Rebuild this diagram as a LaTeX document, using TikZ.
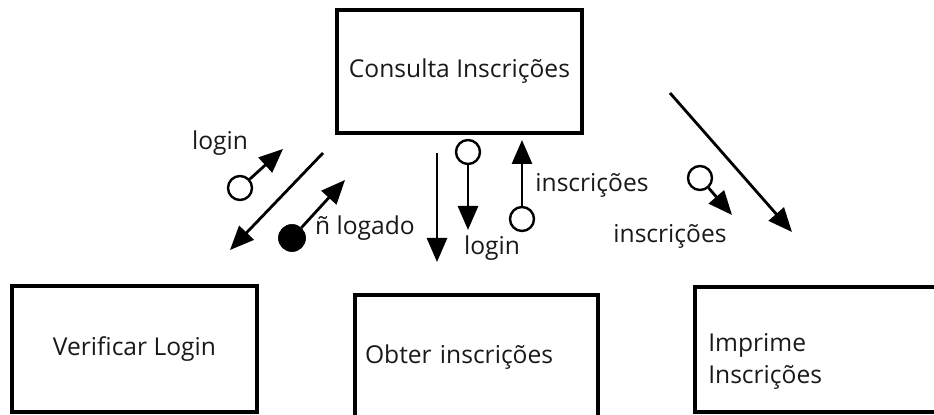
\documentclass[tikz,border=0pt]{standalone}
\usepackage{fontspec}
\setmainfont{Open Sans}
\usetikzlibrary{arrows.meta}

\begin{document}
\begin{tikzpicture}[font=\fontsize{17.5}{22.7}\selectfont, text=black!90,
  box/.style={draw, line width=2.3pt, inner sep=0pt},
  flow/.style={line width=2pt, -{Triangle[length=0.6cm,width=0.5cm]}},
  dataflag/.style={draw, circle, line width=1.7pt, minimum size=0.6cm, inner sep=0pt},
  ctrlflag/.style={draw, circle, fill, minimum size=0.68cm, inner sep=0pt}]
\clip (0,0) rectangle (23.35,10.375);
\node[box, minimum width=6.125cm, minimum height=3.075cm] (cons) at (11.4875,8.5875) {Consulta Inscrições};
\node[box, minimum width=6.125cm, minimum height=3.15cm] (verif) at (3.3625,1.65) {Verificar Login};
\node[box, minimum width=6.075cm, minimum height=3.125cm, text width=5.575cm, align=left] (obter) at (11.9125,1.4375) {Obter inscrições};
\node[box, minimum width=6.25cm, minimum height=3.125cm] (impr) at (20.5,1.6375) {};
\node[anchor=west, align=left, inner sep=0pt] (imprtxt) at (17.7,1.35) {Imprime\\Inscrições};
% verificar login
\coordinate (L1) at (8.075,6.55);
\coordinate (L2) at (5.75,4.125);
\draw[flow] (L1) -- (L2);
\node[dataflag] (c1) at (6.0,5.675) {};
\coordinate (t1) at (7.075,6.65);
\draw[flow] (c1) -- (t1);
\node (login1) at (5.5,6.8) {login};
\node[ctrlflag] (c2) at (7.3,4.425) {};
\coordinate (t2) at (8.625,5.875);
\draw[flow] (c2) -- (t2);
\node (nlog) at (9.125,4.675) {ñ logado};
% obter inscricoes
\coordinate (M1) at (10.925,6.55);
\coordinate (M2) at (10.925,3.825);
\draw[flow] (M1) -- (M2);
\node[dataflag] (c3) at (11.7,6.575) {};
\coordinate (t3) at (11.7,4.625);
\draw[flow] (c3) -- (t3);
\node (login2) at (12.3,4.175) {login};
\node[dataflag] (c4) at (13.05,4.9) {};
\coordinate (t4) at (13.05,6.875);
\draw[flow] (c4) -- (t4);
\node (inscr1) at (14.8,5.75) {inscrições};
% imprime inscricoes
\coordinate (R1) at (16.75,8.05);
\coordinate (R2) at (19.8,4.575);
\draw[flow] (R1) -- (R2);
\node[dataflag] (c5) at (17.5,5.925) {};
\coordinate (t5) at (18.3,5.0);
\draw[flow] (c5) -- (t5);
\node (inscr2) at (16.75,4.475) {inscrições};
\end{tikzpicture}
\end{document}
